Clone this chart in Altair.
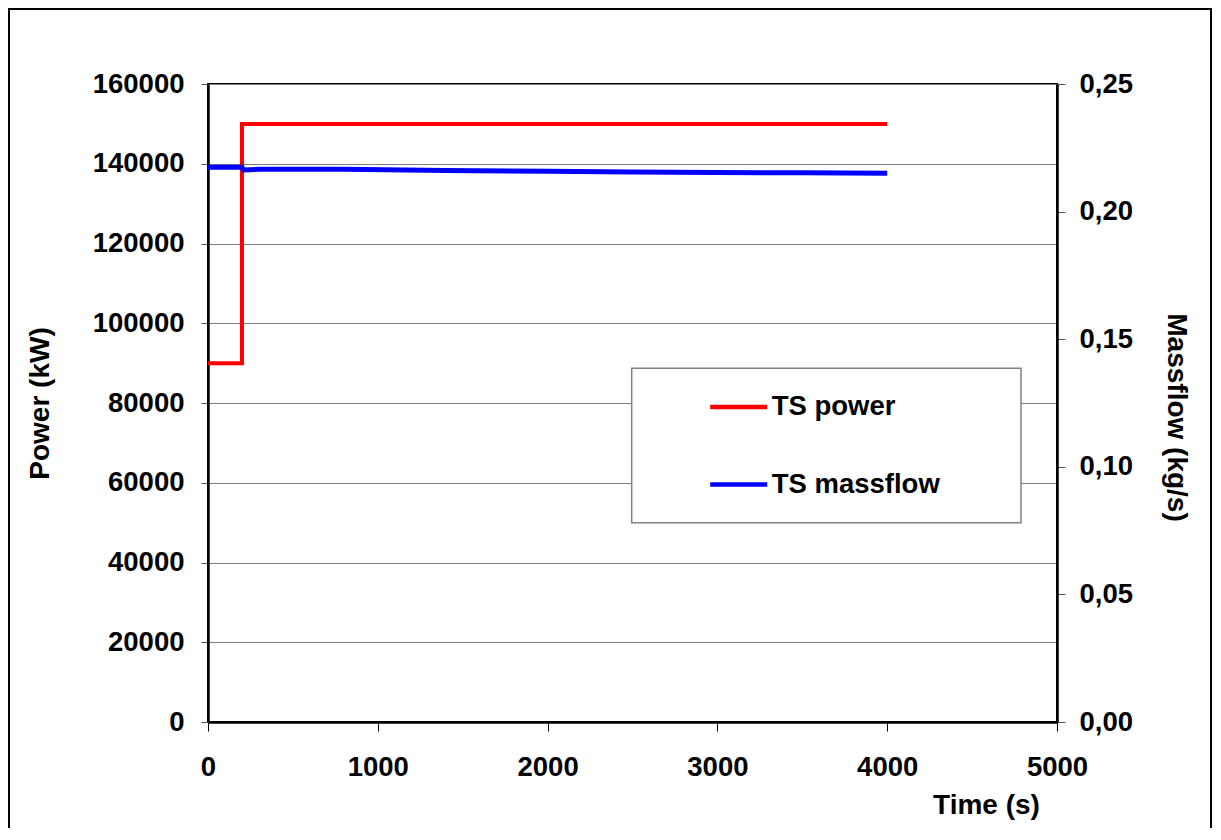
import altair as alt
import pandas as pd

# ---- data ----
power_time = [0, 200, 200, 4000]
power_kw = [90000, 90000, 150000, 150000]
mass_time = [0, 200, 210, 300, 800, 1400, 2000, 2500, 3000, 3500, 4000]
mass_kgs = [0.2174, 0.2174, 0.2163, 0.2166, 0.2166, 0.2161, 0.2158, 0.2155, 0.2153, 0.2152, 0.2150]
series_names = ["TS power", "TS massflow"]
series_colors = ["#ff0000", "#0000ff"]
x_ticks = [0, 1000, 2000, 3000, 4000, 5000]
power_ticks = list(range(0, 160001, 20000))
mass_ticks = [0.0, 0.05, 0.10, 0.15, 0.20, 0.25]

FONT = "Liberation Sans"

power_df = pd.DataFrame({"time": power_time, "value": power_kw,
                         "series": series_names[0], "idx": list(range(len(power_time)))})
mass_df = pd.DataFrame({"time": mass_time, "value": mass_kgs,
                        "series": series_names[1], "idx": list(range(len(mass_time)))})
one = pd.DataFrame({"a": [0]})

color = alt.Color(
    "series:N",
    scale=alt.Scale(domain=series_names, range=series_colors),
    legend=alt.Legend(
        title=None, orient="none", legendX=499.7, legendY=292,
        symbolType="stroke", symbolSize=3249, symbolStrokeWidth=4.5,
        labelFontSize=27.5, labelFont=FONT, labelFontWeight="bold",
        labelColor="black", labelOffset=2, labelLimit=500,
        rowPadding=32.6, padding=0,
    ),
)

x_enc = alt.X(
    "time:Q",
    scale=alt.Scale(domain=[0, 5000], nice=False),
    axis=alt.Axis(values=x_ticks, format="d", title="Time (s)",
                  titleX=778, titleY=69, titleAlign="center", titleBaseline="top",
                  tickSize=9, tickColor="black", labelPadding=22, grid=False,
                  labelFlush=False),
)

box = alt.Chart(one).mark_rect(fill="white", stroke="#808080", strokeWidth=1.5).encode(
    x=alt.value(423.7), x2=alt.value(813), y=alt.value(284.3), y2=alt.value(438.7)
)
frame = alt.Chart(one).mark_rect(fillOpacity=0, stroke="black", strokeWidth=2).encode(
    x=alt.value(-199), x2=alt.value(1003), y=alt.value(-75), y2=alt.value(900)
)

power_line = alt.Chart(power_df).mark_line(strokeWidth=4, strokeJoin="miter").encode(
    x=x_enc,
    y=alt.Y("value:Q", scale=alt.Scale(domain=[0, 160000], nice=False),
            axis=alt.Axis(values=power_ticks, format="d", title="Power (kW)",
                          orient="left", grid=True, tickSize=7, labelPadding=17,
                          titleX=-160, titleY=319, titleAngle=270,
                          titleAlign="center", titleBaseline="alphabetic")),
    color=color,
    order=alt.Order("idx:Q"),
)

mass_line = alt.Chart(mass_df).mark_line(strokeWidth=5, strokeJoin="miter").encode(
    x=x_enc,
    y=alt.Y("value:Q", scale=alt.Scale(domain=[0, 0.25], nice=False),
            axis=alt.Axis(values=mass_ticks, title="Massflow (kg/s)", orient="right",
                          grid=False, tickSize=8, labelPadding=14,
                          labelExpr="replace(format(datum.value, '.2f'), '.', ',')",
                          titleX=110, titleY=333, titleAngle=90,
                          titleAlign="center", titleBaseline="alphabetic")),
    color=color,
    order=alt.Order("idx:Q"),
)

chart = (
    alt.layer(box, frame, power_line, mass_line)
    .resolve_scale(y="independent")
    .properties(
        width=849, height=638,
        padding={"left": 200, "top": 76, "right": 156, "bottom": 106},
        autosize=alt.AutoSizeParams(type="none"),
        background="white",
    )
    .configure_view(stroke="black", strokeWidth=2)
    .configure_axis(
        labelFont=FONT, labelFontSize=27.5, labelFontWeight="bold", labelColor="black",
        titleFont=FONT, titleFontSize=28, titleFontWeight="bold", titleColor="black",
        domainColor="black", domainWidth=2.5, tickColor="#555555", tickWidth=1,
        gridColor="#808080", gridWidth=1,
    )
)

chart.save("out.html", embed_options={"renderer": "svg", "actions": False})
